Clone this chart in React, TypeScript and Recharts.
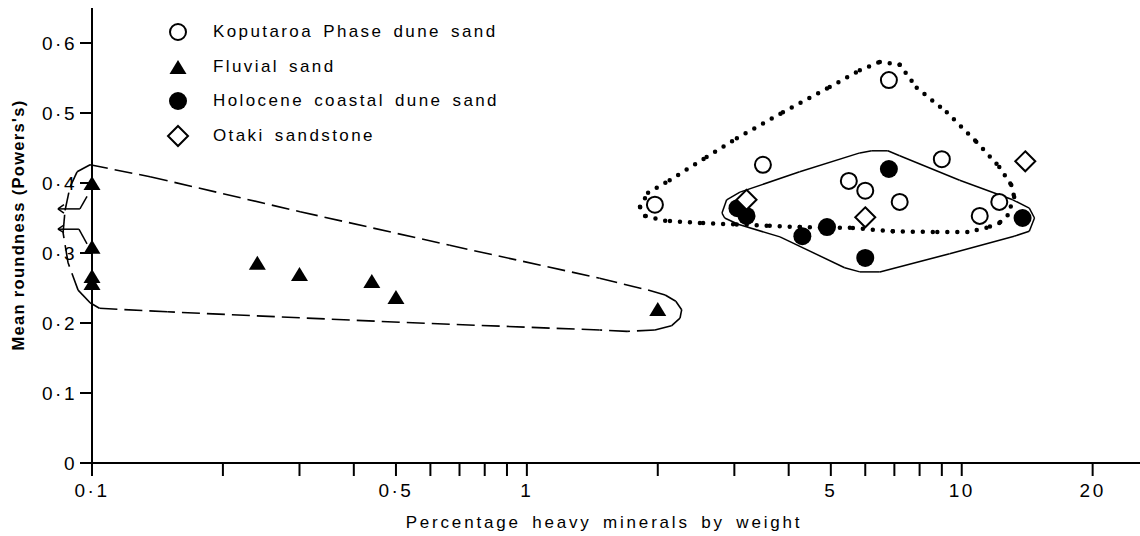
import React from "react"
import { ScatterChart, Scatter, XAxis, YAxis, ReferenceLine, Legend } from "recharts"

const FONT = '"Liberation Sans", Arial, Helvetica, sans-serif'

// percentage heavy minerals (x) and mean roundness (y) for each sample group
const koputaroaX = [1.97, 3.49, 5.5, 6.0, 6.8, 7.2, 9.0, 11, 12.2]
const koputaroaY = [0.369, 0.426, 0.403, 0.389, 0.547, 0.373, 0.434, 0.353, 0.373]
const fluvialX = [0.1, 0.1, 0.1, 0.1, 0.24, 0.3, 0.44, 0.5, 2.0]
const fluvialY = [0.4, 0.309, 0.267, 0.257, 0.286, 0.27, 0.26, 0.237, 0.22]
const holoceneX = [3.05, 3.2, 4.3, 4.9, 6.0, 6.8, 13.8]
const holoceneY = [0.364, 0.353, 0.324, 0.337, 0.293, 0.42, 0.35]
const otakiX = [3.2, 6.0, 14.0]
const otakiY = [0.376, 0.351, 0.431]

const seriesNames = ["Koputaroa Phase dune sand", "Fluvial sand", "Holocene coastal dune sand", "Otaki sandstone"]

const xTicks = [0.1, 0.2, 0.3, 0.4, 0.5, 0.6, 0.7, 0.8, 0.9, 1, 2, 3, 4, 5, 6, 7, 8, 9, 10, 20]
const xLabelled = [0.1, 0.5, 1, 5, 10, 20]
const yTicks = [0, 0.1, 0.2, 0.3, 0.4, 0.5, 0.6]

// hand drawn envelopes, in data units [x, y]
const fluvialEnvelope = [
  [0.099, 0.426], [0.136, 0.409], [0.301, 0.359], [0.665, 0.311], [1.47, 0.264], [1.9, 0.247],
  [2.08, 0.24], [2.2, 0.231], [2.27, 0.219], [2.25, 0.207], [2.15, 0.196], [1.97, 0.19],
  [1.7, 0.188], [1.47, 0.19], [0.51, 0.201], [0.149, 0.216], [0.104, 0.221], [0.099, 0.229],
  [0.0929, 0.247], [0.0881, 0.286], [0.0858, 0.329], [0.0867, 0.361], [0.089, 0.394],
  [0.0924, 0.416], [0.099, 0.426],
]
const koputaroaEnvelope = [
  [1.82, 0.366], [1.9, 0.386], [2.13, 0.404], [2.59, 0.437], [3.04, 0.464], [3.88, 0.501],
  [4.97, 0.537], [5.83, 0.561], [6.48, 0.573], [7.2, 0.569], [7.88, 0.536], [9.24, 0.501],
  [10.8, 0.459], [12.2, 0.423], [13.0, 0.397], [13.2, 0.38], [12.75, 0.354], [12.2, 0.343],
  [11.4, 0.336], [10.3, 0.33], [8.58, 0.33], [6.94, 0.331], [5.53, 0.336], [4.24, 0.337],
  [3.56, 0.339], [2.98, 0.341], [2.5, 0.343], [2.08, 0.346], [1.87, 0.353], [1.82, 0.366],
]
const holoceneEnvelope = [
  [2.81, 0.357], [2.88, 0.376], [3.09, 0.387], [4.24, 0.416], [5.83, 0.443], [6.21, 0.446],
  [6.76, 0.446], [7.2, 0.439], [9.89, 0.404], [13.1, 0.376], [14.3, 0.364], [14.7, 0.35],
  [14.3, 0.331], [13.2, 0.324], [9.38, 0.299], [6.48, 0.273], [5.83, 0.273], [5.38, 0.279],
  [3.82, 0.323], [3.06, 0.341], [2.85, 0.35], [2.81, 0.357],
]
// arrows pointing to values below 0.1 %
const arrowUpper = [[0.0974, 0.381], [0.0938, 0.363], [0.0835, 0.363]]
const arrowUpperHead = [[0.0862, 0.369], [0.0835, 0.363], [0.0862, 0.357]]
const arrowLower = [[0.0974, 0.313], [0.0933, 0.334], [0.0835, 0.334]]
const arrowLowerHead = [[0.0862, 0.34], [0.0835, 0.334], [0.0862, 0.329]]

const toPoints = (xs: number[], ys: number[]) => xs.map((x, i) => ({ x, y: ys[i] }))

const fmtDot = (v: number) => (v === 0 ? "0" : String(v).replace(".", "·"))
const fmtX = (v: number) => (xLabelled.includes(v) ? fmtDot(v) : "")

const marker = (kind: number, cx: number, cy: number) => {
  if (kind === 0) return <circle cx={cx} cy={cy} r={8} fill="#fff" stroke="#000" strokeWidth={2} />
  if (kind === 1)
    return <polygon points={`${cx},${cy - 7} ${cx + 8.5},${cy + 7} ${cx - 8.5},${cy + 7}`} fill="#000" />
  if (kind === 2) return <circle cx={cx} cy={cy} r={9} fill="#000" />
  return (
    <polygon
      points={`${cx},${cy - 10} ${cx + 10},${cy} ${cx},${cy + 10} ${cx - 10},${cy}`}
      fill="#fff"
      stroke="#000"
      strokeWidth={2}
    />
  )
}

const shapeFor = (kind: number) => (props: any) => marker(kind, props.cx, props.cy)

const segments = (pts: number[][]) => pts.slice(0, -1).map((p, i) => [p, pts[i + 1]])

const envelope = (pts: number[][], key: string, style: any) =>
  segments(pts).map(([a, b], i) => (
    <ReferenceLine
      key={`${key}-${i}`}
      segment={[{ x: a[0], y: a[1] }, { x: b[0], y: b[1] }]}
      ifOverflow="visible"
      stroke="#000"
      {...style}
    />
  ))

const renderLegend = () => (
  <div style={{ fontFamily: FONT, fontSize: 17, letterSpacing: 2.4, wordSpacing: 3, color: "#000" }}>
    {seriesNames.map((name, i) => (
      <div key={name} style={{ display: "flex", alignItems: "center", height: 34.5 }}>
        <svg width={26} height={26} style={{ marginRight: 22 }}>
          {marker(i, 13, 13)}
        </svg>
        <span>{name}</span>
      </div>
    ))}
  </div>
)

const XTitle = (props: any) => {
  const vb = props.viewBox
  return (
    <text
      x={vb.x + vb.width / 2 - 12}
      y={528}
      textAnchor="middle"
      fontFamily={FONT}
      fontSize={17}
      letterSpacing={2.8}
      wordSpacing={4}
      fill="#000"
    >
      Percentage heavy minerals by weight
    </text>
  )
}

const YTitle = () => (
  <text
    x={0}
    y={0}
    transform="translate(24, 225) rotate(-90)"
    textAnchor="middle"
    fontFamily={FONT}
    fontSize={16.5}
    fontWeight="bold"
    letterSpacing={1.3}
    fill="#000"
  >
    Mean roundness (Powers's)
  </text>
)

const tickStyle = { fill: "#000", fontSize: 19, fontFamily: FONT, letterSpacing: 2.5 }
const lineStyle = { stroke: "#000", strokeWidth: 2 }

export default function App() {
  return (
    <div style={{ position: "absolute", left: 0, top: 0, width: 1140, height: 536, background: "#fff" }}>
      <ScatterChart width={1140} height={536} margin={{ top: 8, right: 0, bottom: 0, left: 0 }}>
        <XAxis
          type="number"
          dataKey="x"
          scale="log"
          domain={[0.1, 25.7]}
          ticks={xTicks}
          interval={0}
          tickFormatter={fmtX}
          height={73}
          tickSize={13}
          tickMargin={8}
          axisLine={lineStyle}
          tickLine={lineStyle}
          tick={tickStyle}
          label={{ content: (p: any) => <XTitle {...p} /> }}
        />
        <YAxis
          type="number"
          dataKey="y"
          domain={[0, 0.65]}
          ticks={yTicks}
          interval={0}
          tickFormatter={fmtDot}
          width={92}
          tickSize={12}
          tickMargin={3}
          axisLine={lineStyle}
          tickLine={lineStyle}
          tick={tickStyle}
          label={{ content: () => <YTitle /> }}
        />
        <Legend
          layout="horizontal"
          align="center"
          verticalAlign="middle"
          content={renderLegend}
          wrapperStyle={{ left: 165, top: 15, width: "auto", height: "auto" }}
        />
        {envelope(fluvialEnvelope, "fl", { strokeWidth: 1.6, strokeDasharray: "18 7" })}
        {envelope(koputaroaEnvelope, "ko", { strokeWidth: 4.5, strokeDasharray: "0 10", strokeLinecap: "round" })}
        {envelope(holoceneEnvelope, "ho", { strokeWidth: 1.5 })}
        {envelope(arrowUpper, "au", { strokeWidth: 1.5 })}
        {envelope(arrowUpperHead, "auh", { strokeWidth: 1.5 })}
        {envelope(arrowLower, "al", { strokeWidth: 1.5 })}
        {envelope(arrowLowerHead, "alh", { strokeWidth: 1.5 })}
        <Scatter name={seriesNames[0]} data={toPoints(koputaroaX, koputaroaY)} shape={shapeFor(0)} isAnimationActive={false} />
        <Scatter name={seriesNames[1]} data={toPoints(fluvialX, fluvialY)} shape={shapeFor(1)} isAnimationActive={false} />
        <Scatter name={seriesNames[2]} data={toPoints(holoceneX, holoceneY)} shape={shapeFor(2)} isAnimationActive={false} />
        <Scatter name={seriesNames[3]} data={toPoints(otakiX, otakiY)} shape={shapeFor(3)} isAnimationActive={false} />
      </ScatterChart>
    </div>
  )
}
